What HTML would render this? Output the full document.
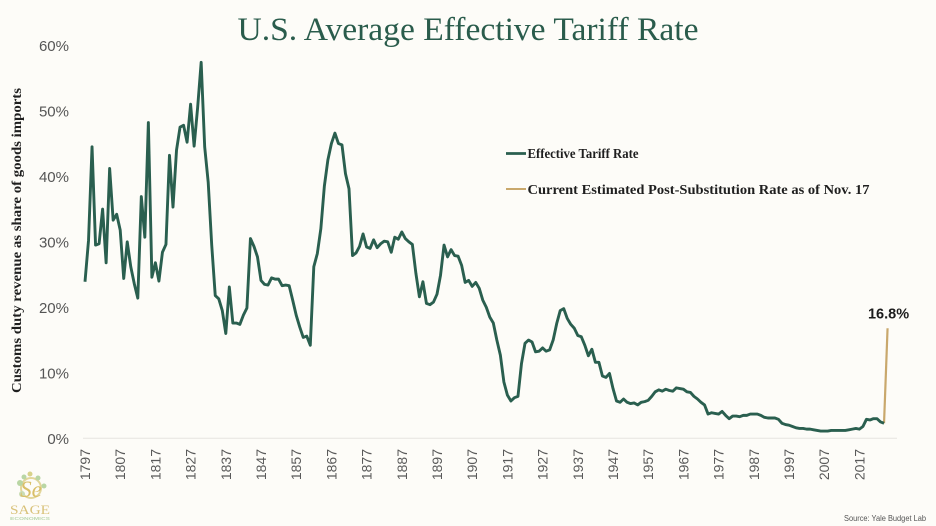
<!DOCTYPE html>
<html lang="en">
<head>
<meta charset="utf-8">
<title>U.S. Average Effective Tariff Rate</title>
<style>
html,body{margin:0;padding:0;background:#fdfcf8;}
svg{display:block;}
.serif{font-family:"Liberation Serif",serif;}
.sans{font-family:"Liberation Sans",sans-serif;}
</style>
</head>
<body>
<svg id="chart" xmlns="http://www.w3.org/2000/svg" width="936" height="526" viewBox="0 0 936 526">
  <rect x="0" y="0" width="936" height="526" fill="#fdfcf8"/>
  <text class="serif" x="237.5" y="40" font-size="33" fill="#2a5c4c" textLength="461" lengthAdjust="spacingAndGlyphs">U.S. Average Effective Tariff Rate</text>
  <text class="serif" transform="translate(21,393) rotate(-90)" x="0" y="0" font-size="13.5" font-weight="700" fill="#1f1f1f" textLength="305" lengthAdjust="spacingAndGlyphs">Customs duty revenue as share of goods imports</text>
  <g id="y-ticks"></g>
  <g id="x-ticks"></g>
  <line id="baseline" stroke="#e6e4df" stroke-width="1"/>
  <polyline id="estimate-line" fill="none" stroke="#c9a86c" stroke-width="2.2"/>
  <polyline id="tariff-line" fill="none" stroke="#2a5f4f" stroke-width="2.9" stroke-linejoin="round"/>
  <text id="estimate-label" class="sans" font-size="14.5" font-weight="700" fill="#1c1c1c" text-anchor="middle"></text>

  <g>
    <line x1="506" y1="153.5" x2="526" y2="153.5" stroke="#2a5f4f" stroke-width="2.7"/>
    <text class="serif" x="527.5" y="158" font-size="14" font-weight="700" fill="#1f1f1f" textLength="111" lengthAdjust="spacingAndGlyphs">Effective Tariff Rate</text>
    <line x1="506" y1="189" x2="526" y2="189" stroke="#c9a86c" stroke-width="2"/>
    <text class="serif" x="527.5" y="194" font-size="14" font-weight="700" fill="#1f1f1f" textLength="342" lengthAdjust="spacingAndGlyphs">Current Estimated Post-Substitution Rate as of Nov. 17</text>
  </g>

  <g>
    <circle cx="31" cy="488" r="10" fill="none" stroke="#e2d69a" stroke-width="2"/>
    <circle cx="20" cy="483" r="3" fill="#b9d6a4"/>
    <circle cx="24" cy="477" r="2.5" fill="#b9d6a4"/>
    <circle cx="30" cy="474" r="2.5" fill="#d8d28a"/>
    <circle cx="38" cy="478" r="2.5" fill="#b9d6a4"/>
    <circle cx="44" cy="486" r="2.5" fill="#b9d6a4"/>
    <circle cx="22" cy="494" r="3" fill="#c9dcb4"/>
    <text class="serif" x="31" y="497" font-size="23" font-style="italic" fill="#d9bf68" text-anchor="middle">Se</text>
    <text class="serif" x="10" y="514" font-size="12.5" fill="#d9c27a" textLength="40" lengthAdjust="spacingAndGlyphs">SAGE</text>
    <text class="sans" x="10" y="520" font-size="4.6" font-weight="700" fill="#bcd8b0" textLength="40" lengthAdjust="spacingAndGlyphs">ECONOMICS</text>
  </g>

  <text class="sans" x="844" y="521" font-size="8" fill="#555" textLength="82" lengthAdjust="spacingAndGlyphs">Source: Yale Budget Lab</text>
</svg>
<script>
const firstYear = [1797];
const tariffRates = [
  23.9,30.2,44.5,
  29.5,29.7,35,26.8,41.2,33.3,34.2,31.8,24.4,30,
  26.2,23.6,21.4,36.9,30.7,48.2,24.6,26.8,24,28.4,
  29.6,43.2,35.3,44,47.5,47.8,45.2,51,44.6,50.5,
  57.4,44.5,39.1,29.5,21.8,21.3,19.5,16,23.1,17.6,
  17.6,17.4,18.8,19.9,30.5,29.3,27.7,24.1,23.5,23.4,
  24.5,24.3,24.3,23.3,23.4,23.3,21.1,18.8,17,15.4,
  15.6,14.2,26.2,28.2,32,38.5,42.5,45,46.6,45,
  44.8,40.4,38.1,27.9,28.3,29.3,31.2,29.2,29,30.3,
  29.1,29.7,30.1,30,28.4,30.7,30.4,31.5,30.5,30,
  29.6,25.2,21.6,23.9,20.6,20.4,20.8,22,24.9,29.5,
  27.7,28.8,27.9,27.8,26.4,23.8,24.1,23.2,23.8,22.9,
  21.1,20,18.5,17.6,15,12.7,8.6,6.6,5.7,6.2,
  6.4,11.4,14.5,15,14.7,13.2,13.3,13.8,13.3,13.5,
  15,17.5,19.5,19.8,18.3,17.4,16.8,15.7,15.5,14.2,
  12.6,13.6,11.6,11.6,9.5,9.3,9.9,7.6,5.7,5.5,
  6,5.5,5.3,5.4,5.1,5.5,5.6,5.8,6.4,7.1,
  7.4,7.2,7.5,7.3,7.2,7.7,7.6,7.5,7.1,7,
  6.4,6,5.5,5.1,3.7,3.9,3.8,3.7,4.1,3.5,
  3,3.4,3.4,3.3,3.5,3.5,3.7,3.7,3.7,3.5,
  3.2,3.1,3.1,3.1,2.9,2.3,2.1,2,1.8,1.6,
  1.5,1.5,1.4,1.4,1.3,1.2,1.1,1.1,1.1,1.2,
  1.2,1.2,1.2,1.2,1.3,1.4,1.5,1.4,1.8,2.9,
  2.8,3,3,2.5,2.3
];
const estimateYears = [2024, 2025];
const estimateRates = [2.3, 16.8];
const yTickValues = [0, 10, 20, 30, 40, 50, 60];
const xTickYears = [1797,1807,1817,1827,1837,1847,1857,1867,1877,1887,1897,1907,1917,1927,1937,1947,1957,1967,1977,1987,1997,2007,2017];

const NS = 'http://www.w3.org/2000/svg';
function xScale(year) { return 85 + (year - 1797) * 3.52; }
function yScale(rate) { return 438.3 - rate * 6.55; }

const tariffPoints = tariffRates.map(function (rate, i) {
  return xScale(firstYear[0] + i).toFixed(2) + ',' + yScale(rate).toFixed(2);
});
document.getElementById('tariff-line').setAttribute('points', tariffPoints.join(' '));

const estimatePoints = estimateRates.map(function (rate, i) {
  return xScale(estimateYears[i]).toFixed(2) + ',' + yScale(rate).toFixed(2);
});
document.getElementById('estimate-line').setAttribute('points', estimatePoints.join(' '));

const lastIdx = estimateRates.length - 1;
const estimateLabel = document.getElementById('estimate-label');
estimateLabel.setAttribute('x', xScale(estimateYears[lastIdx]) + 1);
estimateLabel.setAttribute('y', yScale(estimateRates[lastIdx]) - 10);
estimateLabel.textContent = estimateRates[lastIdx].toFixed(1) + '%';

const base = document.getElementById('baseline');
base.setAttribute('x1', xScale(1797) - 2);
base.setAttribute('x2', 897);
base.setAttribute('y1', yScale(0));
base.setAttribute('y2', yScale(0));

const yGroup = document.getElementById('y-ticks');
yTickValues.forEach(function (v) {
  const t = document.createElementNS(NS, 'text');
  
  
  t.setAttribute('class', 'sans');
  t.setAttribute('x', 69);
  t.setAttribute('y', yScale(v) + 5.5);
  t.setAttribute('font-size', '15');
  t.setAttribute('fill', '#555');
  t.setAttribute('text-anchor', 'end');
  t.textContent = v + '%';
  yGroup.appendChild(t);
});

const xGroup = document.getElementById('x-ticks');
xTickYears.forEach(function (yr) {
  const t = document.createElementNS(NS, 'text');
  
  
  t.setAttribute('class', 'sans');
  t.setAttribute('transform', 'translate(' + (xScale(yr) + 5) + ',449) rotate(-90)');
  t.setAttribute('font-size', '14');
  t.setAttribute('fill', '#5a5a5a');
  t.setAttribute('text-anchor', 'end');
  t.textContent = yr;
  xGroup.appendChild(t);
});
</script>
</body>
</html>
